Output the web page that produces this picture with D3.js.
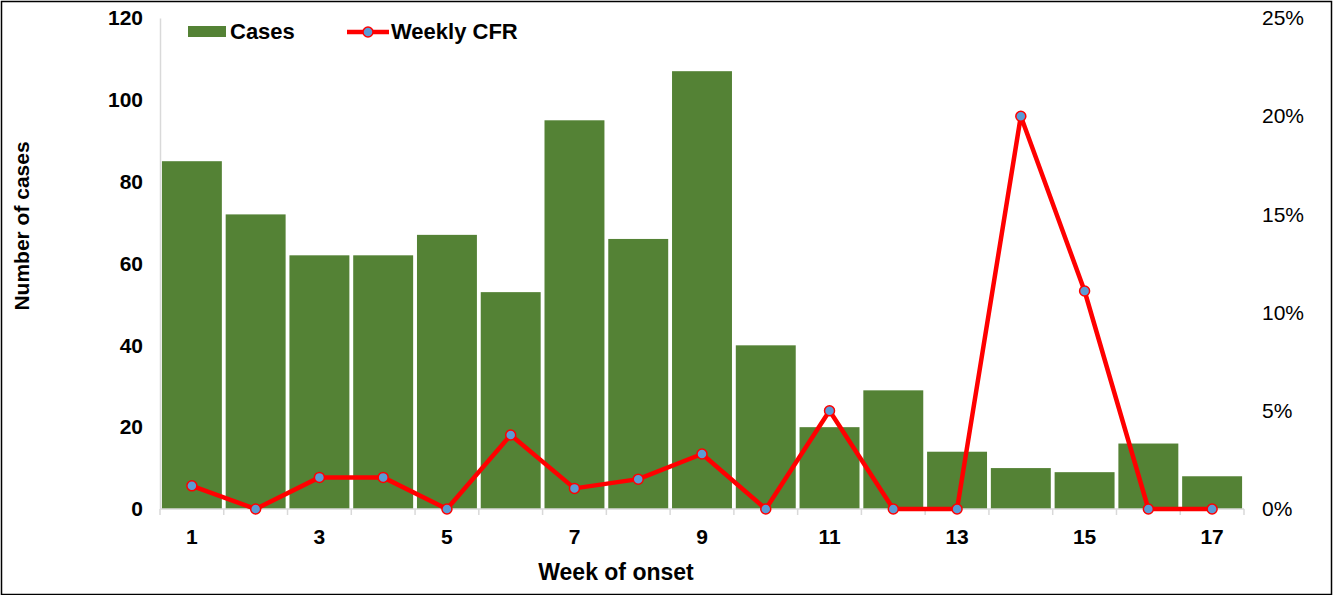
<!DOCTYPE html>
<html>
<head>
<meta charset="utf-8">
<script src="https://cdn.jsdelivr.net/npm/d3@7"></script>
<style>
  body { margin: 0; background: #fff; }
  svg { display: block; font-family: "Liberation Sans", Arial, sans-serif; }
</style>
</head>
<body>
<svg width="1333" height="595"></svg>
<script>
// week numbers
const weeks = [1, 2, 3, 4, 5, 6, 7, 8, 9, 10, 11, 12, 13, 14, 15, 16, 17]
// number of cases per week
const cases = [85, 72, 62, 62, 67, 53, 95, 66, 107, 40, 20, 29, 14, 10, 9, 16, 8]
// weekly case fatality rate, in percent
const cfr = [1.18, 0, 1.61, 1.61, 0, 3.77, 1.05, 1.52, 2.8, 0, 5, 0, 0, 20, 11.1, 0, 0]
const leftTicks = [0, 20, 40, 60, 80, 100, 120]
const rightTicks = [0, 5, 10, 15, 20, 25]

const w = 1333
const h = 595
const plotLeft = 160
const plotRight = 1244
const plotTop = 18
const plotBottom = 509

const svg = d3.select("svg")

// outer frame
svg.append("rect")
    .attr("x", 1.5)
    .attr("y", 1.5)
    .attr("width", w - 3)
    .attr("height", h - 2)
    .attr("fill", "none")
    .attr("stroke", "#000")
    .attr("stroke-width", 1.5)

// scales
const xScale = d3.scaleBand()
    .domain(weeks)
    .range([plotLeft, plotRight])
    .paddingInner(0.06)
    .paddingOuter(0.03)

const xBound = d3.scaleBand()
    .domain(weeks)
    .range([plotLeft, plotRight])

const yScale = d3.scaleLinear()
    .domain([0, 120])
    .range([plotBottom, plotTop])

const y2Scale = d3.scaleLinear()
    .domain([0, 25])
    .range([plotBottom, plotTop])

// bars
svg.selectAll(".bar")
    .data(weeks)
    .enter()
    .append("rect")
    .attr("class", "bar")
    .attr("x", d => xScale(d))
    .attr("y", (d, i) => yScale(cases[i]))
    .attr("width", xScale.bandwidth())
    .attr("height", (d, i) => plotBottom - yScale(cases[i]))
    .attr("fill", "#548235")

// left axis
const axisLeft = d3.axisLeft(yScale)
    .tickValues(leftTicks)
    .tickSize(0)
    .tickPadding(17)

const gLeft = svg.append("g")
    .attr("transform", `translate(${plotLeft}, 0)`)
    .call(axisLeft)
gLeft.select(".domain").attr("stroke", "#d9d9d9").attr("stroke-width", 1.5)
gLeft.selectAll("text")
    .attr("font-size", 21)
    .attr("font-weight", "bold")
    .attr("fill", "#000")
    .attr("font-family", "Liberation Sans, Arial, sans-serif")

// right axis
const axisRight = d3.axisRight(y2Scale)
    .tickValues(rightTicks)
    .tickSize(0)
    .tickPadding(18)
    .tickFormat(d => d + "%")

const gRight = svg.append("g")
    .attr("transform", `translate(${plotRight}, 0)`)
    .call(axisRight)
gRight.select(".domain").remove()
gRight.selectAll("text")
    .attr("font-size", 21)
    .attr("fill", "#000")
    .attr("font-family", "Liberation Sans, Arial, sans-serif")

// bottom axis
svg.append("line")
    .attr("x1", plotLeft)
    .attr("x2", plotRight)
    .attr("y1", plotBottom)
    .attr("y2", plotBottom)
    .attr("stroke", "#d9d9d9")
    .attr("stroke-width", 1.5)

const bounds = weeks.map(d => xBound(d)).concat([plotRight])
svg.selectAll(".xtick")
    .data(bounds)
    .enter()
    .append("line")
    .attr("class", "xtick")
    .attr("x1", d => d)
    .attr("x2", d => d)
    .attr("y1", plotBottom)
    .attr("y2", plotBottom + 6)
    .attr("stroke", "#d9d9d9")
    .attr("stroke-width", 1.5)

svg.selectAll(".xlabel")
    .data(weeks.filter(d => d % 2 === 1))
    .enter()
    .append("text")
    .attr("class", "xlabel")
    .attr("x", d => xBound(d) + xBound.bandwidth() / 2)
    .attr("y", 544)
    .attr("text-anchor", "middle")
    .attr("font-size", 21)
    .attr("font-weight", "bold")
    .text(d => d)

// axis titles
svg.append("text")
    .attr("x", 616)
    .attr("y", 580)
    .attr("text-anchor", "middle")
    .attr("font-size", 23)
    .attr("font-weight", "bold")
    .text("Week of onset")

svg.append("text")
    .attr("transform", "translate(29, 226) rotate(-90)")
    .attr("text-anchor", "middle")
    .attr("font-size", 21)
    .attr("font-weight", "bold")
    .text("Number of cases")

// CFR line
const line = d3.line()
    .x((d, i) => xBound(weeks[i]) + xBound.bandwidth() / 2)
    .y(d => y2Scale(d))

svg.append("path")
    .datum(cfr)
    .attr("d", line)
    .attr("fill", "none")
    .attr("stroke", "#ff0000")
    .attr("stroke-width", 4.5)
    .attr("stroke-linejoin", "round")

svg.selectAll(".dot")
    .data(cfr)
    .enter()
    .append("circle")
    .attr("class", "dot")
    .attr("cx", (d, i) => xBound(weeks[i]) + xBound.bandwidth() / 2)
    .attr("cy", d => y2Scale(d))
    .attr("r", 5)
    .attr("fill", "#5b9bd5")
    .attr("stroke", "#ff0000")
    .attr("stroke-width", 1.5)

// legend
const legend = svg.append("g")

legend.append("rect")
    .attr("x", 188)
    .attr("y", 26)
    .attr("width", 38)
    .attr("height", 11)
    .attr("fill", "#548235")

legend.append("text")
    .attr("x", 230)
    .attr("y", 39)
    .attr("font-size", 22)
    .attr("font-weight", "bold")
    .text("Cases")

legend.append("line")
    .attr("x1", 347)
    .attr("x2", 389)
    .attr("y1", 32)
    .attr("y2", 32)
    .attr("stroke", "#ff0000")
    .attr("stroke-width", 4.5)

legend.append("circle")
    .attr("cx", 368)
    .attr("cy", 32)
    .attr("r", 5)
    .attr("fill", "#5b9bd5")
    .attr("stroke", "#ff0000")
    .attr("stroke-width", 1.5)

legend.append("text")
    .attr("x", 391)
    .attr("y", 39)
    .attr("font-size", 22)
    .attr("font-weight", "bold")
    .text("Weekly CFR")
</script>
</body>
</html>
